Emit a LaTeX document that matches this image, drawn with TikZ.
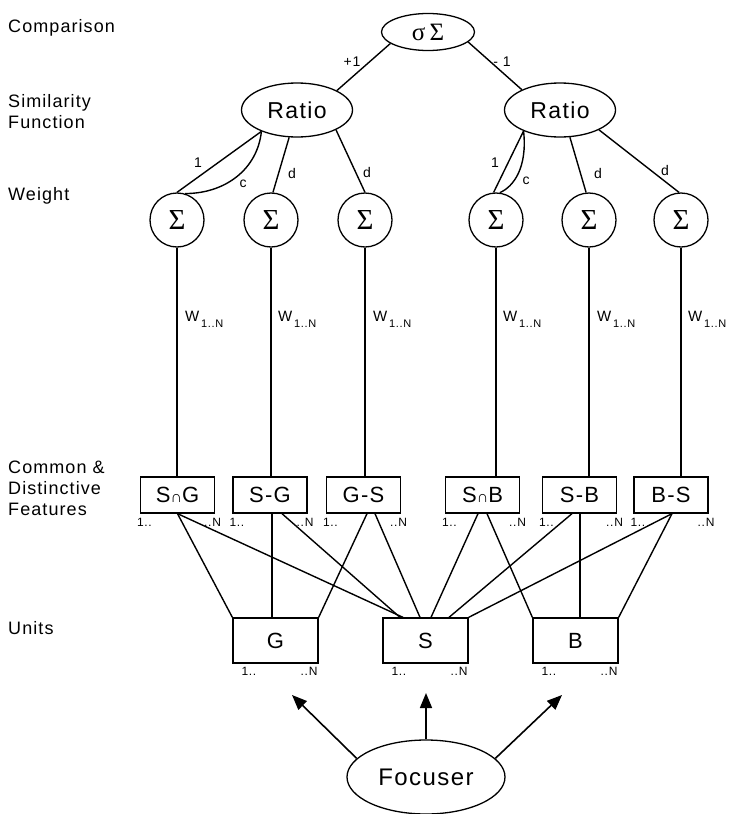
\documentclass[tikz,border=0pt]{standalone}
\usepackage{fontspec}
\setmainfont{Liberation Sans}[LetterSpace=6]
\newfontfamily\grk{Liberation Serif}
\usetikzlibrary{shapes.geometric,arrows.meta}
\newcommand\fsz[1]{\fontsize{#1}{#1}\selectfont}
\begin{document}
\begin{tikzpicture}[x=1pt,y=-1pt,
  conn/.style={line width=1.4pt},
  ell/.style={ellipse,draw,line width=1.3pt,inner sep=0pt},
  sig/.style={circle,draw,line width=1.3pt,minimum size=54pt,inner sep=0pt,font=\grk\fsz{29}},
  fbox/.style={rectangle,draw,line width=1.3pt,minimum width=74pt,minimum height=36pt,inner sep=0pt,font=\fsz{22}},
  ubox/.style={rectangle,draw,line width=1.3pt,minimum width=85pt,minimum height=45pt,inner sep=0pt,font=\fsz{22}},
  side/.style={anchor=west,align=left,inner sep=0pt,font=\fontsize{18}{21}\selectfont},
  lbl/.style={inner sep=0pt,font=\fsz{14}},
  idx/.style={inner sep=0pt,font=\fsz{12}},
  wlab/.style={anchor=base west,inner sep=0pt,font=\fsz{15}},
  arr/.style={line width=1.6pt,-{Triangle[length=15pt,width=12pt]}}
]
\useasboundingbox (0,0) rectangle (733,814);

% side labels
\node[side] (t1) at (8,28) {Comparison};
\node[side] (t2) at (8,112) {Similarity\\Function};
\node[side] (t3) at (8,196) {Weight};
\node[side] (t4) at (8,488) {Common \&\\Distinctive\\Features};
\node[side] (t5) at (8,628) {Units};

% comparison and ratios
\node[ell,minimum width=93pt,minimum height=37pt] (C) at (428,32) {\grk\fsz{25}σ\,Σ};
\node[ell,minimum width=111pt,minimum height=54pt,font=\fsz{23}] (RL) at (297,110) {Ratio};
\node[ell,minimum width=111pt,minimum height=54pt,font=\fsz{23}] (RR) at (560,110) {Ratio};

\draw[conn] (C.197) -- (RL.26);
\draw[conn] (C.346) -- (RR.152);
\node[lbl] (p1) at (352,62) {+1};
\node[lbl] (m1) at (502,62) {- 1};

% weight circles
\node[sig] (L1) at (177,220) {Σ};
\node[sig] (L2) at (271,220) {Σ};
\node[sig] (L3) at (365,220) {Σ};
\node[sig] (R1) at (496,220) {Σ};
\node[sig] (R2) at (589,220) {Σ};
\node[sig] (R3) at (681,220) {Σ};

% ratio -> circles
\draw[conn] (RL.211) -- (L1.north);
\draw[conn] (RL.211) .. controls +(-4,38) and +(40,0) .. (L1.73);
\draw[conn] (RL.254) -- (L2.86);
\draw[conn] (RL.333) -- (L3.north);
\node[lbl] (a1) at (198,163) {1};
\node[lbl] (a2) at (243,184) {c};
\node[lbl] (a3) at (292,173) {d};
\node[lbl] (a4) at (367,172) {d};

\draw[conn] (RR.210) -- (R1.95);
\draw[conn] (RR.210) .. controls +(4,36) and +(14,-6) .. (R1.82);
\draw[conn] (RR.290) -- (R2.96);
\draw[conn] (RR.333) -- (R3.94);
\node[lbl] (b1) at (495,163) {1};
\node[lbl] (b2) at (526,181) {c};
\node[lbl] (b3) at (598,173) {d};
\node[lbl] (b4) at (665,170) {d};

% feature boxes
\node[fbox] (F1) at (177.5,495) {S{\fsz{16}∩}G};
\node[fbox] (F2) at (270,495) {S-G};
\node[fbox] (F3) at (363.5,495) {G-S};
\node[fbox] (F4) at (482.5,495) {S{\fsz{16}∩}B};
\node[fbox] (F5) at (579.5,495) {S-B};
\node[fbox] (F6) at (671,495) {B-S};

% weights
\foreach \c/\f in {L1/F1,L2/F2,L3/F3,R1/F4,R2/F5,R3/F6}{
  \draw[conn] (\c.south) -- (\c.south |- \f.north);
}
\foreach \w [count=\i] in {185,278,373,503,597,688}{
  \node[wlab] (w\i) at (\w,321) {W\raisebox{-6pt}{\fsz{11}\,1..N}};
}

% index labels under feature boxes
\foreach \f in {F1,F2,F3,F4,F5,F6}{
  \node[idx,anchor=base west] at ([xshift=-3pt,yshift=-13pt]\f.south west) {1..};
  \node[idx,anchor=base east] at ([xshift=6pt,yshift=-13pt]\f.south east) {..N};
}

% units
\node[ubox] (G) at (275.5,640.5) {G};
\node[ubox] (S) at (425.5,640.5) {S};
\node[ubox] (B) at (575.5,640.5) {B};
\foreach \u in {G,S,B}{
  \node[idx,anchor=base west] at ([xshift=9pt,yshift=-12pt]\u.south west) {1..};
  \node[idx,anchor=base east] at ([xshift=-1pt,yshift=-12pt]\u.south east) {..N};
}

% feature -> unit connections
\draw[conn] (F1.south) -- (G.north west);
\draw[conn] (F1.south) -- ([xshift=-22.5pt]S.north);
\draw[conn] ([xshift=2pt]F2.south) -- ([xshift=-3.5pt]G.north);
\draw[conn] ([xshift=12pt]F2.south) -- ([xshift=-25.5pt]S.north);
\draw[conn] ([xshift=3.5pt]F3.south) -- (G.north east);
\draw[conn] ([xshift=11.5pt]F3.south) -- ([xshift=-5.5pt]S.north);
\draw[conn] ([xshift=-4.5pt]F4.south) -- ([xshift=5.5pt]S.north);
\draw[conn] ([xshift=4.5pt]F4.south) -- (B.north west);
\draw[conn] ([xshift=-7.5pt]F5.south) -- ([xshift=23.5pt]S.north);
\draw[conn] ([xshift=0.5pt]F5.south) -- ([xshift=4.5pt]B.north);
\draw[conn] ([xshift=1pt]F6.south) -- (S.north east);
\draw[conn] ([xshift=1pt]F6.south) -- (B.north east);

% focuser
\node[ell,minimum width=158pt,minimum height=74pt,font=\fsz{24}] (Fo) at (426,777) {Focuser};
\coordinate (tG) at (292,695);
\coordinate (tS) at (426,693);
\coordinate (tB) at (562,695);
\draw[arr] (Fo.165) -- (tG);
\draw[arr] (Fo.north) -- (tS);
\draw[arr] (Fo.15) -- (tB);
\end{tikzpicture}
\end{document}
